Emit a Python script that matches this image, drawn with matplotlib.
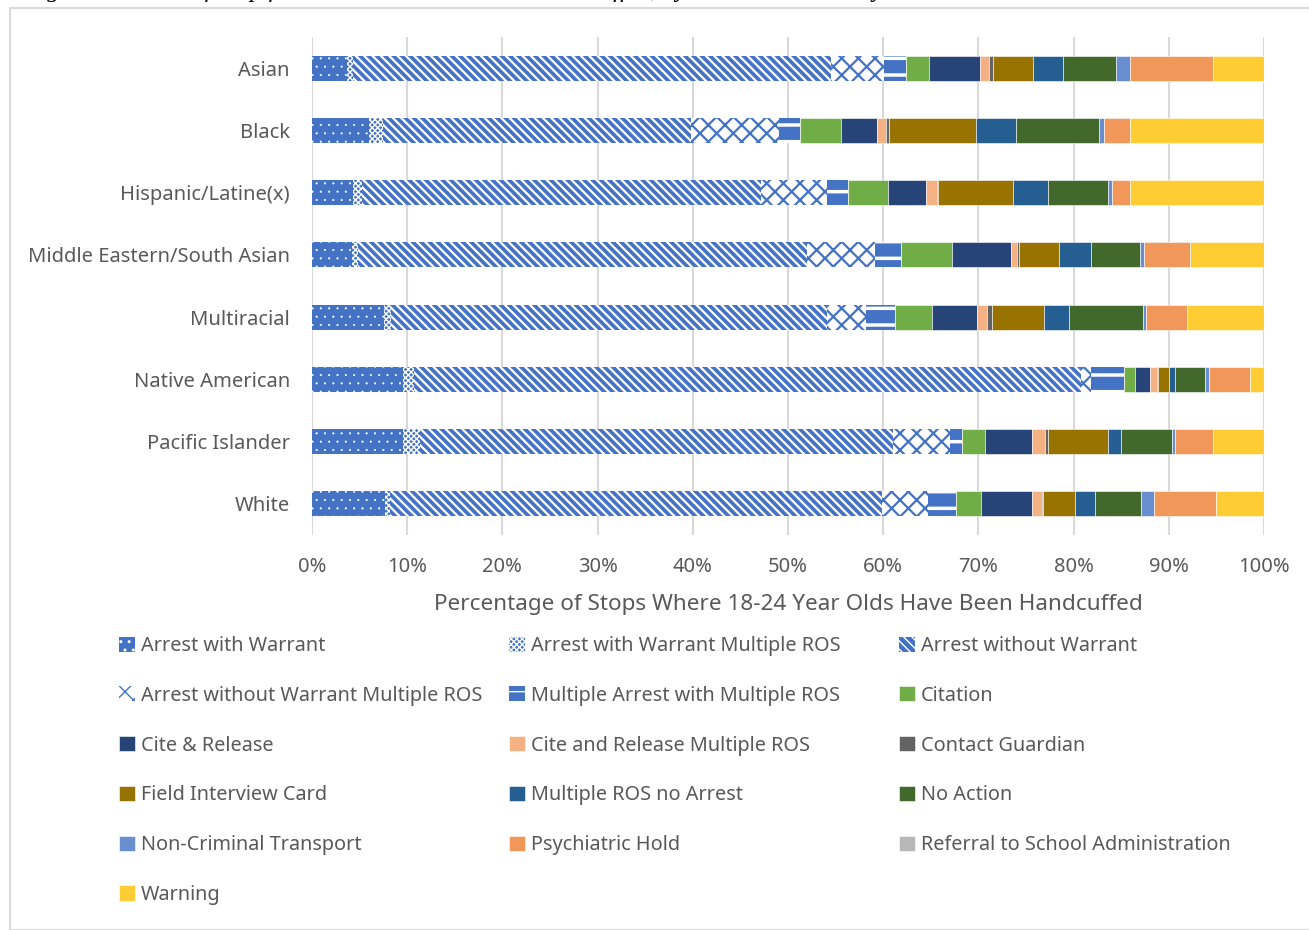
import numpy as np
import matplotlib.pyplot as plt
from matplotlib.patches import Rectangle

races = ['Asian', 'Black', 'Hispanic/Latine(x)', 'Middle Eastern/South Asian',
         'Multiracial', 'Native American', 'Pacific Islander', 'White']

# percentages per outcome, one value per race (same order as races)
arrest_warrant = [3.7, 6.0, 4.3, 4.2, 7.6, 9.6, 9.6, 7.7]
arrest_warrant_multi = [0.6, 1.5, 0.9, 0.6, 0.7, 1.1, 1.7, 0.5]
arrest_no_warrant = [50.2, 32.3, 42.0, 47.2, 45.8, 70.1, 49.7, 51.7]
arrest_no_warrant_multi = [5.6, 9.3, 6.9, 7.1, 4.1, 1.0, 6.0, 4.8]
multi_arrest = [2.3, 2.2, 2.2, 2.8, 3.0, 3.5, 1.3, 2.9]
citation = [2.4, 4.3, 4.2, 5.3, 3.9, 1.2, 2.4, 2.7]
cite_release = [5.4, 3.7, 4.0, 6.2, 4.8, 1.5, 4.9, 5.3]
cite_release_multi = [0.9, 1.0, 1.1, 0.7, 1.0, 0.8, 1.4, 1.1]
contact_guardian = [0.4, 0.3, 0.2, 0.2, 0.5, 0.1, 0.3, 0.1]
field_interview = [4.2, 9.2, 7.8, 4.2, 5.5, 1.1, 6.3, 3.3]
multi_ros_no_arrest = [3.2, 4.2, 3.7, 3.3, 2.6, 0.7, 1.4, 2.2]
no_action = [5.6, 8.7, 6.3, 5.2, 7.8, 3.1, 5.3, 4.8]
non_criminal_transport = [1.4, 0.5, 0.4, 0.4, 0.3, 0.4, 0.4, 1.3]
psychiatric_hold = [8.7, 2.7, 1.9, 4.8, 4.3, 4.3, 3.9, 6.6]
referral_school = [0, 0, 0, 0, 0, 0, 0, 0]
warning = [5.4, 14.1, 14.1, 7.8, 8.1, 1.5, 5.4, 5.0]

blue = '#4472C4'
# (label, values, facecolor, hatchcolor, hatch, hatch linewidth)
series = [
    ('Arrest with Warrant', arrest_warrant, blue, 'white', '..', 0.3),
    ('Arrest with Warrant Multiple ROS', arrest_warrant_multi, blue, 'white', 'xxxxxx', 1.0),
    ('Arrest without Warrant', arrest_no_warrant, blue, 'white', '\\\\\\\\', 1.6),
    ('Arrest without Warrant Multiple ROS', arrest_no_warrant_multi, 'white', blue, 'xx', 1.6),
    ('Multiple Arrest with Multiple ROS', multi_arrest, blue, 'white', '-', 2.5),
    ('Citation', citation, '#70AD47', None, None, None),
    ('Cite & Release', cite_release, '#264478', None, None, None),
    ('Cite and Release Multiple ROS', cite_release_multi, '#F4B183', None, None, None),
    ('Contact Guardian', contact_guardian, '#636363', None, None, None),
    ('Field Interview Card', field_interview, '#997300', None, None, None),
    ('Multiple ROS no Arrest', multi_ros_no_arrest, '#255E91', None, None, None),
    ('No Action', no_action, '#43682B', None, None, None),
    ('Non-Criminal Transport', non_criminal_transport, '#698ED0', None, None, None),
    ('Psychiatric Hold', psychiatric_hold, '#F1975A', None, None, None),
    ('Referral to School Administration', referral_school, '#B7B7B7', None, None, None),
    ('Warning', warning, '#FFCC33', None, None, None),
]

plt.rcParams['font.family'] = 'Noto Sans'
text_color = '#595959'

fig = plt.figure(figsize=(13.09, 9.3), dpi=100)
ax = fig.add_axes([312 / 1309, 1 - 535 / 930, (1264 - 312) / 1309, (535 - 37) / 930])

y = np.arange(len(races))
left = np.zeros(len(races))
handles = []
for label, vals, fc, hc, hatch, hlw in series:
    vals = np.array(vals, dtype=float)
    if hatch:
        with plt.rc_context({'hatch.linewidth': hlw}):
            b = ax.barh(y, vals, left=left, height=0.4, color=fc, edgecolor=hc,
                        hatch=hatch, linewidth=0, label=label, zorder=3)
    else:
        b = ax.barh(y, vals, left=left, height=0.4, color=fc, edgecolor='white',
                    linewidth=0.4, label=label, zorder=3)
    handles.append(b)
    left += vals

ax.set_xlim(0, 100)
ax.set_ylim(len(races) - 0.5, -0.5)
ax.set_yticks(y)
ax.set_yticklabels(races)
ax.set_xticks(np.arange(0, 101, 10))
ax.set_xticklabels([f'{v}%' for v in range(0, 101, 10)])
ax.tick_params(length=0, labelsize=14.5, labelcolor=text_color)
ax.tick_params(axis='y', pad=16)
ax.tick_params(axis='x', pad=16)
ax.grid(axis='x', color='#D9D9D9', linewidth=1.5, zorder=0)
for s in ax.spines.values():
    s.set_visible(False)
ax.set_xlabel('Percentage of Stops Where 18-24 Year Olds Have Been Handcuffed',
              fontsize=16.2, color=text_color, labelpad=12)

# Excel fills the legend row by row: one legend per column, placed by hand
col_x = [119, 509, 899]
for c in range(3):
    idx = list(range(c, len(series), 3))
    leg = fig.legend([handles[i] for i in idx], [series[i][0] for i in idx],
                     loc='upper left', bbox_to_anchor=(col_x[c] / 1309, 1 - 636 / 930),
                     frameon=False, fontsize=14.3, handlelength=0.8, handleheight=0.8,
                     handletextpad=0.3, labelspacing=1.5, borderpad=0, borderaxespad=0)
    for t in leg.get_texts():
        t.set_color(text_color)

fig.text(25 / 1309, 1 + 3 / 930, 'Figure 4. Result of Stop for Youth Who Have Been Handcuffed, by Race and Ethnicity',
         family='Liberation Serif', style='italic', fontsize=18, va='baseline')
fig.patches.append(Rectangle((10 / 1309, 0), 1.0, 1 - 8 / 930, transform=fig.transFigure,
                             fill=False, edgecolor='#D9D9D9', linewidth=1.5))

fig.savefig('out.png', dpi=100)
